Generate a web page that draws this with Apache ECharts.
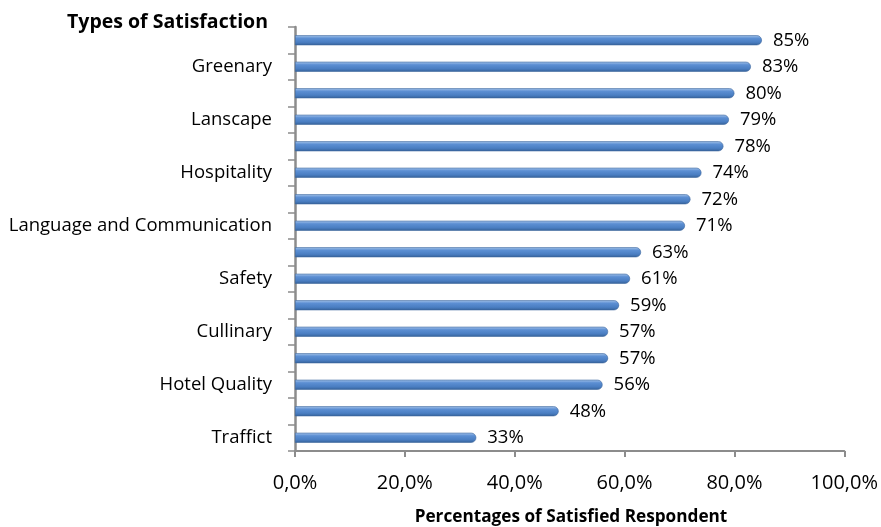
<!DOCTYPE html>
<html><head><meta charset="utf-8">
<script src="https://cdn.jsdelivr.net/npm/echarts@6/dist/echarts.min.js"></script>
<style>html,body{margin:0;padding:0;background:#fff}#c{width:881px;height:527px}</style>
</head><body><div id="c"></div>
<script>
const categories = ["Traffict","","Hotel Quality","","Cullinary","","Safety","","Language and Communication","","Hospitality","","Lanscape","","Greenary",""];
const values = [33,48,56,57,57,59,61,63,71,72,74,78,79,80,83,85];
const xTicks = [0,20,40,60,80,100];
const yTitle = "Types of Satisfaction";
const xTitle = "Percentages of Satisfied Respondent";

const FONT = "'Open Sans', sans-serif";
const chart = echarts.init(document.getElementById('c'));
chart.setOption({
  animation:false,
  grid:{left:295,right:36,top:27,bottom:76,containLabel:false},
  title:[
    {text:yTitle,left:62,top:7,textStyle:{fontFamily:FONT,fontSize:19.5,fontWeight:'bold',color:'#000'}},
    {text:xTitle,left:566,textAlign:'center',top:504,textStyle:{fontFamily:FONT,fontSize:17.2,fontWeight:'bold',color:'#000'}}
  ],
  xAxis:{type:'value',min:xTicks[0],max:xTicks[xTicks.length-1],interval:20,
    axisLine:{show:true,lineStyle:{color:'#8c8c8c',width:2}},
    axisTick:{show:true,length:6,lineStyle:{color:'#8c8c8c',width:2}},
    splitLine:{show:false},
    axisLabel:{margin:22,fontFamily:FONT,fontSize:20,color:'#000',formatter:v=>v.toFixed(1).replace('.',',')+'%'}},
  yAxis:{type:'category',data:categories,
    axisLine:{show:true,lineStyle:{color:'#8c8c8c',width:2.5}},
    axisTick:{show:true,length:7,interval:0,lineStyle:{color:'#8c8c8c',width:1.5}},
    axisLabel:{interval:0,margin:23,fontFamily:FONT,fontSize:18.5,color:'#000'}},
  series:[{type:'bar',data:values,barWidth:10,
    itemStyle:{borderRadius:[0,5,5,0],borderColor:'#3a659c',borderWidth:0.6,
      color:new echarts.graphic.LinearGradient(0,0,0,1,[{offset:0,color:'#a9c6ec'},{offset:0.3,color:'#5c8fd3'},{offset:0.7,color:'#4a7ec2'},{offset:1,color:'#36629a'}])},
    label:{show:true,position:'right',distance:11,fontFamily:FONT,fontSize:18.5,color:'#000',formatter:p=>p.value+'%'}}]
});
</script></body></html>
